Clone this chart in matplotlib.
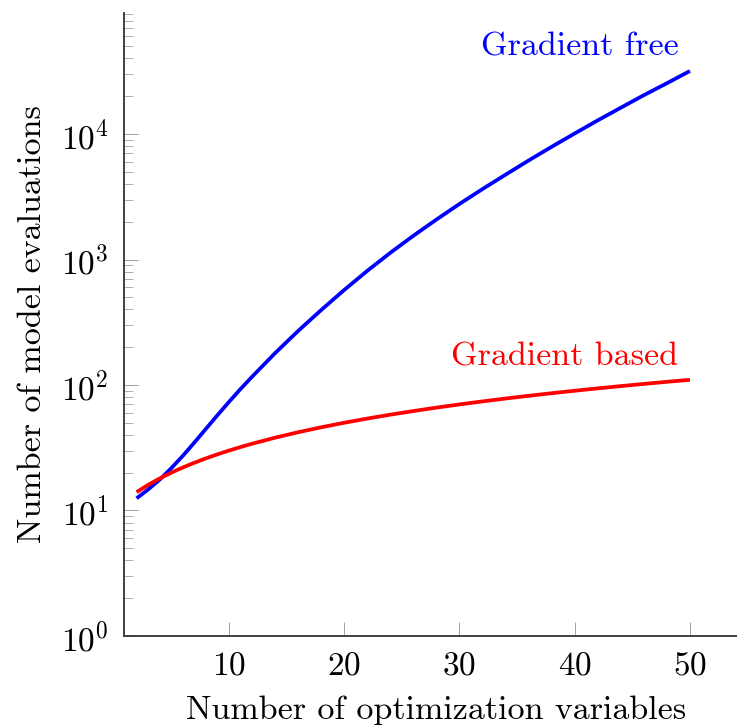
import numpy as np
import matplotlib
matplotlib.use("Agg")
import matplotlib.pyplot as plt
from matplotlib.ticker import LogLocator, NullFormatter

plt.rcParams['font.family'] = ['cmr10', 'DejaVu Serif']
plt.rcParams['mathtext.fontset'] = 'cm'
plt.rcParams['axes.formatter.use_mathtext'] = True

# number of optimization variables
n_vars = [2, 3, 4, 5, 6, 7, 8, 9, 10, 11, 12, 14, 16, 18, 20, 22, 24, 26,
          28, 30, 32, 34, 36, 38, 40, 42, 44, 46, 48, 50]
# gradient free evaluations
grad_free = [12.5, 14.7, 17.6, 21.7, 27.2, 34.7, 44.6, 57.3, 73.1, 92.6, 116,
             179, 269, 395, 571, 811, 1130, 1545, 2080, 2770, 3640, 4740,
             6150, 7910, 10100, 12850, 16200, 20400, 25400, 31800]
# gradient based evaluations
grad_based = [14, 16, 18, 20, 22, 24, 26, 28, 30, 32, 34, 38, 42, 46, 50, 54,
              58, 62, 66, 70, 74, 78, 82, 86, 90, 94, 98, 102, 106, 110]

x_ticks = [10, 20, 30, 40, 50]

fig = plt.figure(figsize=(7.37, 7.25), dpi=100)
ax = fig.add_axes([0.168, 0.1228, 0.832, 0.8592])

ax.plot(n_vars, grad_free, color=(0, 0, 1), lw=2.7, solid_capstyle='butt')
ax.plot(n_vars, grad_based, color=(1, 0, 0), lw=2.7, solid_capstyle='butt')

ax.set_yscale('log')
ax.set_xlim(0.89, 54.08)
ax.set_ylim(1, 10**4.964)
ax.set_xticks(x_ticks)
ax.yaxis.set_major_locator(LogLocator(base=10, numticks=10))
ax.yaxis.set_minor_locator(LogLocator(base=10, subs=np.arange(2, 10), numticks=20))
ax.yaxis.set_minor_formatter(NullFormatter())

for side in ['top', 'right']:
    ax.spines[side].set_visible(False)
for side in ['left', 'bottom']:
    ax.spines[side].set_color('#404040')
    ax.spines[side].set_linewidth(1.4)

ax.tick_params(axis='both', which='major', direction='in', length=10, width=0.6,
               color='#909090', labelsize=24, pad=11)
ax.tick_params(axis='y', which='minor', direction='in', length=6.5, width=0.6,
               color='#a0a0a0')
ax.tick_params(axis='x', which='minor', bottom=False)

ax.set_xlabel('Number of optimization variables', fontsize=24.5, labelpad=11)
ax.set_ylabel('Number of model evaluations', fontsize=24.5, labelpad=10)
ax.xaxis.label.set_x(0.51)

ax.text(49, 10**4.69, 'Gradient free', color=(0, 0, 1), fontsize=24.5,
        ha='right', va='center')
ax.text(49, 10**2.22, 'Gradient based', color=(1, 0, 0), fontsize=24.5,
        ha='right', va='center')

fig.savefig('out.png', dpi=100)
